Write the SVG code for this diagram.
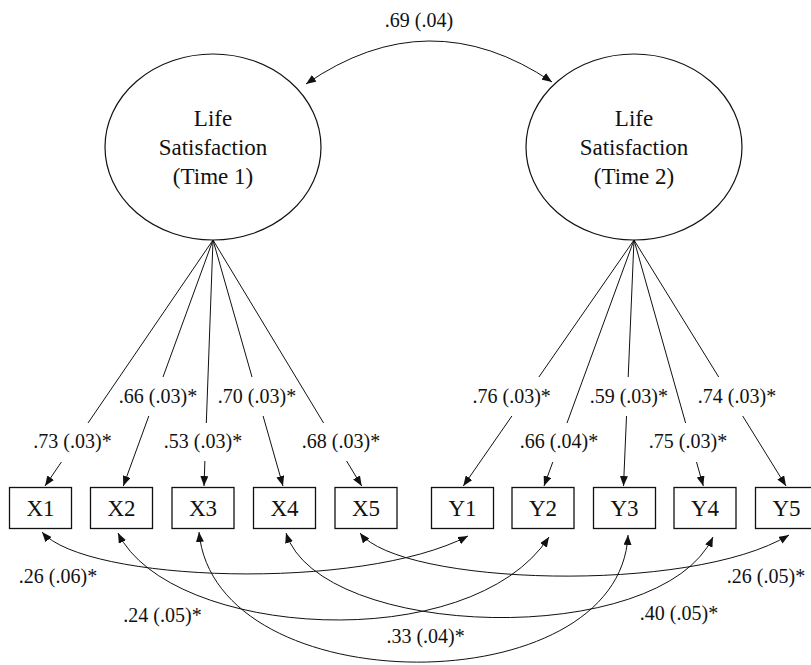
<svg xmlns="http://www.w3.org/2000/svg" width="811" height="665" viewBox="0 0 811 665">
<style>
.bg{fill:#fff}
.lat{fill:#fff;stroke:#111;stroke-width:1.2}
.obs{fill:#fff;stroke:#111;stroke-width:1.3}
.ln{fill:none;stroke:#111;stroke-width:1}
.t1{font-size:23px;fill:#111;text-anchor:middle}
.lb{font-size:20px;fill:#111;text-anchor:middle}
</style>
<defs>
<marker id="ah" viewBox="0 0 10 8" refX="10" refY="4" markerWidth="10" markerHeight="8" markerUnits="userSpaceOnUse" orient="auto-start-reverse">
<path d="M0,0 L10,4 L0,8 z" fill="#111"/>
</marker>
</defs>
<rect class="bg" x="0" y="0" width="811" height="665"/>
<g font-family="Liberation Serif, Times New Roman, DejaVu Serif, serif">
<g id="connectors">
<path class="ln" d="M306,84 Q429,-1 552,82" marker-start="url(#ah)" marker-end="url(#ah)"/>
<line class="ln" x1="213" y1="240" x2="88" y2="423"/>
<line class="ln" x1="61.4" y1="462" x2="45" y2="486" marker-end="url(#ah)"/>
<line class="ln" x1="213" y1="240" x2="163" y2="377"/>
<line class="ln" x1="148.8" y1="416" x2="123.3" y2="486" marker-end="url(#ah)"/>
<line class="ln" x1="213" y1="240" x2="206.3" y2="423"/>
<line class="ln" x1="204.9" y1="461" x2="204" y2="486" marker-end="url(#ah)"/>
<line class="ln" x1="213" y1="240" x2="252" y2="377"/>
<line class="ln" x1="263.1" y1="416" x2="283" y2="486" marker-end="url(#ah)"/>
<line class="ln" x1="213" y1="240" x2="323.6" y2="423"/>
<line class="ln" x1="346.6" y1="461" x2="361.7" y2="486" marker-end="url(#ah)"/>
<line class="ln" x1="634" y1="240" x2="538.9" y2="377"/>
<line class="ln" x1="511.9" y1="416" x2="463.3" y2="486" marker-end="url(#ah)"/>
<line class="ln" x1="634" y1="240" x2="567" y2="423"/>
<line class="ln" x1="552.8" y1="462" x2="544" y2="486" marker-end="url(#ah)"/>
<line class="ln" x1="634" y1="240" x2="628.2" y2="377"/>
<line class="ln" x1="626.5" y1="416" x2="623.5" y2="486" marker-end="url(#ah)"/>
<line class="ln" x1="634" y1="240" x2="685.6" y2="423"/>
<line class="ln" x1="696.5" y1="462" x2="703.3" y2="486" marker-end="url(#ah)"/>
<line class="ln" x1="634" y1="240" x2="718.7" y2="377"/>
<line class="ln" x1="742.7" y1="416" x2="786" y2="486" marker-end="url(#ah)"/>
<path class="ln" d="M42,532 C85,582 360,592 468,536" marker-start="url(#ah)" marker-end="url(#ah)"/>
<path class="ln" d="M360,533 C400,585 690,595 789,535" marker-start="url(#ah)" marker-end="url(#ah)"/>
<path class="ln" d="M118,533 C170,638 470,658 549,537" marker-start="url(#ah)" marker-end="url(#ah)"/>
<path class="ln" d="M286,533 C320,640 660,650 713,537" marker-start="url(#ah)" marker-end="url(#ah)"/>
<path class="ln" d="M199,532 C215,705 620,705 628,535" marker-start="url(#ah)" marker-end="url(#ah)"/>
<text class="lb" x="419" y="26.5">.69 (.04)</text>
<text class="lb" x="158" y="403">.66 (.03)*</text>
<text class="lb" x="257" y="403">.70 (.03)*</text>
<text class="lb" x="72.5" y="448">.73 (.03)*</text>
<text class="lb" x="203" y="448">.53 (.03)*</text>
<text class="lb" x="341" y="448">.68 (.03)*</text>
<text class="lb" x="511.7" y="403">.76 (.03)*</text>
<text class="lb" x="628.8" y="403">.59 (.03)*</text>
<text class="lb" x="737" y="403">.74 (.03)*</text>
<text class="lb" x="559" y="448">.66 (.04)*</text>
<text class="lb" x="688" y="448">.75 (.03)*</text>
<text class="lb" x="58" y="583">.26 (.06)*</text>
<text class="lb" x="766" y="583">.26 (.05)*</text>
<text class="lb" x="162.5" y="621.5">.24 (.05)*</text>
<text class="lb" x="679" y="620">.40 (.05)*</text>
<text class="lb" x="425.6" y="643">.33 (.04)*</text>
</g>

<g id="ls1">
<ellipse class="lat" cx="213" cy="147" rx="108" ry="93"/>
<text class="t1" x="213" y="126">Life</text>
<text class="t1" x="213" y="155">Satisfaction</text>
<text class="t1" x="213" y="183.5">(Time 1)</text>
</g>
<g id="ls2">
<ellipse class="lat" cx="634" cy="147" rx="108" ry="93"/>
<text class="t1" x="634" y="126">Life</text>
<text class="t1" x="634" y="155">Satisfaction</text>
<text class="t1" x="634" y="183.5">(Time 2)</text>
</g>

<g id="X1"><rect class="obs" x="9.5" y="487.5" width="62" height="41"/><text class="t1" x="40.5" y="515.5">X1</text></g>
<g id="X2"><rect class="obs" x="90.5" y="487.5" width="62" height="41"/><text class="t1" x="121.5" y="515.5">X2</text></g>
<g id="X3"><rect class="obs" x="172" y="487.5" width="62" height="41"/><text class="t1" x="203" y="515.5">X3</text></g>
<g id="X4"><rect class="obs" x="253.5" y="487.5" width="62" height="41"/><text class="t1" x="284.5" y="515.5">X4</text></g>
<g id="X5"><rect class="obs" x="335" y="487.5" width="62" height="41"/><text class="t1" x="366" y="515.5">X5</text></g>
<g id="Y1"><rect class="obs" x="431.5" y="487.5" width="62" height="41"/><text class="t1" x="462.5" y="515.5">Y1</text></g>
<g id="Y2"><rect class="obs" x="512" y="487.5" width="62" height="41"/><text class="t1" x="543" y="515.5">Y2</text></g>
<g id="Y3"><rect class="obs" x="593.5" y="487.5" width="62" height="41"/><text class="t1" x="624.5" y="515.5">Y3</text></g>
<g id="Y4"><rect class="obs" x="674" y="487.5" width="62" height="41"/><text class="t1" x="705" y="515.5">Y4</text></g>
<g id="Y5"><rect class="obs" x="755.5" y="487.5" width="62" height="41"/><text class="t1" x="786.5" y="515.5">Y5</text></g>
</g>
</svg>
